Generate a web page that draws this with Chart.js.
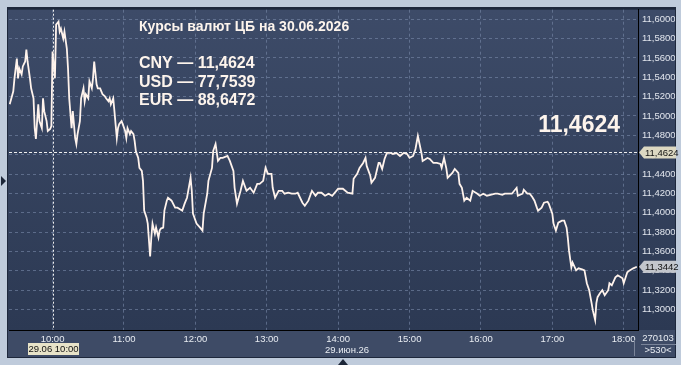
<!DOCTYPE html>
<html>
<head>
<meta charset="utf-8">
<script src="https://cdn.jsdelivr.net/npm/chart.js@4.4.1/dist/chart.umd.min.js"></script>
<style>
  html, body { margin: 0; padding: 0; background: #bfcbdb; }
  canvas { display: block; }
</style>
</head>
<body>
<canvas id="rateChart" width="681" height="365"></canvas>
<script>
// CNY/RUB intraday, 29.06
const times = [
  "09:24","09:27","09:28","09:30","09:31","09:32","09:34","09:35","09:37","09:38","09:39","09:41","09:42","09:44","09:45","09:46","09:48","09:49","09:51","09:52","09:53","09:55","09:56","09:58","09:59",
  "10:00","10:02","10:03","10:05","10:06","10:07","10:09","10:10","10:12","10:13","10:14","10:16","10:17","10:19","10:20","10:21","10:23","10:24","10:26","10:27","10:28","10:30","10:31","10:33","10:34","10:35","10:37","10:38","10:40","10:41","10:42","10:44","10:45","10:47","10:48","10:49","10:51","10:52","10:54","10:55","10:56","10:58","10:59",
  "11:01","11:02","11:03","11:05","11:06","11:08","11:09","11:10","11:12","11:13","11:15","11:16","11:17","11:19","11:20","11:22","11:23","11:24","11:26","11:27","11:29","11:30","11:31","11:33","11:34","11:36","11:37","11:40","11:43","11:45","11:49","11:51","11:53","11:56","11:57","11:58",
  "12:01","12:04","12:06","12:07","12:10","12:11","12:14","12:15","12:17","12:19","12:21","12:23","12:27","12:29","12:32","12:33","12:35","12:38","12:40","12:43","12:46","12:49","12:52","12:54","12:57","12:59",
  "13:01","13:04","13:05","13:07","13:10","13:13","13:15","13:18","13:21","13:24","13:26","13:30","13:32","13:35","13:38","13:41","13:43","13:46","13:49","13:52","13:55",
  "14:00","14:04","14:08","14:12","14:13","14:16","14:18","14:21","14:23","14:24","14:27","14:28","14:31","14:34","14:35","14:37","14:39","14:41","14:44","14:46","14:49","14:52","14:55","14:58",
  "15:00","15:03","15:05","15:07","15:10","15:11","15:15","15:17","15:20","15:23","15:26","15:27","15:29","15:31","15:32","15:36","15:38","15:41","15:42","15:44","15:46","15:48","15:51","15:53","15:57","15:59",
  "16:02","16:05","16:08","16:12","16:14","16:18","16:20","16:23","16:26","16:30","16:31","16:35","16:36","16:39","16:41","16:43","16:45","16:47","16:48","16:51","16:53","16:56","16:57",
  "17:00","17:01","17:03","17:05","17:08","17:10","17:12","17:13","17:14","17:16","17:17","17:20","17:22","17:25","17:27","17:29","17:31","17:33","17:34","17:36","17:37","17:38","17:40","17:42","17:44","17:47","17:48","17:50","17:53","17:55","17:59",
  "18:00","18:03","18:05","18:08","18:11"
];
const cnyValues = [
  11.5121,11.5255,11.5389,11.5594,11.5389,11.5491,11.5430,11.5512,11.5563,11.5687,11.5563,11.5389,11.5286,11.5183,11.4875,11.4762,11.5121,11.4947,11.4875,11.5183,11.5050,11.4947,11.4844,11.4865,11.4895,
  11.5666,11.5389,11.5944,11.5974,11.5872,11.5903,11.5800,11.5872,11.5697,11.5491,11.5183,11.4875,11.5050,11.4772,11.4710,11.4813,11.4947,11.5183,11.5286,11.5152,11.5224,11.5183,11.5358,11.5286,11.5389,11.5563,11.5327,11.5286,11.5286,11.5255,11.5224,11.5204,11.5183,11.5152,11.5183,11.5121,11.5183,11.5050,11.4772,11.4875,11.4916,11.4947,11.4916,
  11.4844,11.4772,11.4875,11.4813,11.4844,11.4813,11.4741,11.4638,11.4567,11.4464,11.4433,11.4330,11.4022,11.3950,11.3888,11.3549,11.3744,11.3888,11.3785,11.3847,11.3744,11.3816,11.3837,11.3847,11.4022,11.4125,11.4155,11.4125,11.4053,11.4053,11.4022,11.4094,11.4155,11.4361,11.4227,11.3991,
  11.3888,11.3847,11.3816,11.3991,11.4197,11.4330,11.4464,11.4638,11.4710,11.4536,11.4567,11.4567,11.4587,11.4536,11.4433,11.4258,11.4094,11.4227,11.4330,11.4227,11.4258,11.4207,11.4299,11.4299,11.4330,11.4464,
  11.4402,11.4402,11.4258,11.4155,11.4227,11.4227,11.4197,11.4207,11.4197,11.4197,11.4207,11.4104,11.4073,11.4125,11.4227,11.4176,11.4207,11.4207,11.4176,11.4197,11.4176,
  11.4248,11.4248,11.4207,11.4197,11.4351,11.4402,11.4464,11.4515,11.4567,11.4484,11.4382,11.4310,11.4361,11.4515,11.4515,11.4453,11.4556,11.4618,11.4618,11.4608,11.4618,11.4587,11.4618,11.4608,
  11.4567,11.4587,11.4659,11.4793,11.4618,11.4536,11.4567,11.4556,11.4515,11.4515,11.4505,11.4464,11.4567,11.4453,11.4361,11.4412,11.4453,11.4412,11.4299,11.4258,11.4125,11.4155,11.4125,11.4227,11.4197,11.4176,
  11.4197,11.4176,11.4186,11.4197,11.4197,11.4186,11.4197,11.4197,11.4197,11.4258,11.4176,11.4197,11.4238,11.4197,11.4197,11.4166,11.4125,11.4053,11.4022,11.4053,11.4104,11.4114,11.4094,
  11.3991,11.3888,11.3816,11.3898,11.3919,11.3919,11.3847,11.3744,11.3611,11.3436,11.3487,11.3405,11.3426,11.3415,11.3405,11.3272,11.3200,11.3066,11.2994,11.2891,11.3066,11.3128,11.3169,11.3200,11.3148,11.3200,11.3272,11.3251,11.3333,11.3354,11.3323,
  11.3272,11.3385,11.3405,11.3426,11.3442
];

const titleText = "Курсы валют ЦБ на 30.06.2026";
const rateNames = ["CNY", "USD", "EUR"];
const rateValues = ["11,4624", "77,7539", "88,6472"];
const cbRate = 11.4624;
const lastPrice = 11.3442;
const cursorTime = "10:00";
const cursorLabel = "29.06 10:00";
const dateLabel = "29.июн.26";
const volumeLabel = "270103";
const barsLabel = ">530<";

const FONT = '"Liberation Sans", Arial, sans-serif';

function toMinutes(t) {
  const [h, m] = t.split(":").map(Number);
  return h * 60 + m;
}
function fmtRate(v) {
  return v.toFixed(4).replace(".", ",");
}

function drawTag(ctx, x, y, text, bg) {
  ctx.beginPath();
  ctx.moveTo(x, y);
  ctx.lineTo(x + 5, y - 6);
  ctx.lineTo(x + 37, y - 6);
  ctx.lineTo(x + 37, y + 6);
  ctx.lineTo(x + 5, y + 6);
  ctx.closePath();
  ctx.fillStyle = bg;
  ctx.fill();
  ctx.fillStyle = "#111";
  ctx.textAlign = "left";
  ctx.textBaseline = "middle";
  ctx.fillText(text, x + 6, y + 0.5);
}

const panel = {
  id: "panel",
  beforeDraw(chart) {
    const { ctx, chartArea: a, width, height } = chart;
    ctx.save();
    ctx.fillStyle = "#bfcbdb";
    ctx.fillRect(0, 0, width, height);
    ctx.fillStyle = "#1e283c";
    ctx.fillRect(7, 7, 669, 351);
    const g = ctx.createLinearGradient(0, a.top, 0, a.bottom);
    g.addColorStop(0, "#3d4b68");
    g.addColorStop(1, "#2c3953");
    ctx.fillStyle = g;
    ctx.fillRect(8, a.top, 667, a.bottom - a.top);
    ctx.fillStyle = "#3e4b66";
    ctx.fillRect(8, a.bottom, 667, 357 - a.bottom);
    ctx.restore();
  },
  afterDraw(chart) {
    const { ctx, chartArea: a, scales: { x, y } } = chart;
    ctx.save();

    // cursor lines
    ctx.strokeStyle = "#eeeeee";
    ctx.lineWidth = 1;
    ctx.setLineDash([3, 2]);
    const yCb = Math.round(y.getPixelForValue(cbRate)) + 0.5;
    ctx.beginPath();
    ctx.moveTo(a.left, yCb);
    ctx.lineTo(a.right, yCb);
    ctx.stroke();
    ctx.setLineDash([2, 2]);
    const xCur = Math.round(x.getPixelForValue(toMinutes(cursorTime))) + 0.5;
    ctx.beginPath();
    ctx.moveTo(xCur, a.top);
    ctx.lineTo(xCur, a.bottom);
    ctx.stroke();
    ctx.setLineDash([]);

    // header texts
    ctx.fillStyle = "#fdf4ec";
    ctx.textAlign = "left";
    ctx.textBaseline = "alphabetic";
    ctx.font = "bold 14px " + FONT;
    ctx.fillText(titleText, 139, 31);
    ctx.font = "bold 16px " + FONT;
    rateNames.forEach((n, i) => {
      ctx.fillText(n + " — " + rateValues[i], 139, 68.3 + i * 18.35);
    });
    ctx.font = "bold 23px " + FONT;
    ctx.textAlign = "right";
    ctx.fillText(fmtRate(cbRate), 620, 132);

    // price tags on the right axis
    ctx.font = "9.5px " + FONT;
    drawTag(ctx, a.right + 1, y.getPixelForValue(cbRate), fmtRate(cbRate), "#dcd8c2");
    drawTag(ctx, a.right + 1, y.getPixelForValue(lastPrice), fmtRate(lastPrice), "#c3c6cc");

    // bottom band
    ctx.fillStyle = "#e8e3c8";
    ctx.fillRect(xCur - 25.5, 343, 51, 12);
    ctx.fillStyle = "#111";
    ctx.textAlign = "center";
    ctx.textBaseline = "middle";
    ctx.fillText(cursorLabel, xCur, 349.5);
    ctx.fillStyle = "#e8ecf2";
    ctx.textAlign = "left";
    ctx.fillText(dateLabel, 325, 350);

    ctx.strokeStyle = "#7a8499";
    ctx.beginPath();
    ctx.moveTo(634.5, 340);
    ctx.lineTo(634.5, 356);
    ctx.moveTo(641, 344.5);
    ctx.lineTo(676, 344.5);
    ctx.stroke();
    ctx.fillStyle = "#e8ecf2";
    ctx.textAlign = "center";
    ctx.fillText(volumeLabel, 658, 338);
    ctx.fillText(barsLabel, 658, 350.5);

    // scroll markers
    ctx.fillStyle = "#1c2638";
    ctx.beginPath();
    ctx.moveTo(1, 176);
    ctx.lineTo(6, 181);
    ctx.lineTo(1, 186);
    ctx.closePath();
    ctx.fill();
    ctx.beginPath();
    ctx.moveTo(338, 365);
    ctx.lineTo(343, 359);
    ctx.lineTo(348, 365);
    ctx.closePath();
    ctx.fill();
    ctx.restore();
  }
};

new Chart(document.getElementById("rateChart"), {
  type: "line",
  data: {
    datasets: [{
      data: times.map((t, i) => ({ x: toMinutes(t), y: cnyValues[i] })),
      borderColor: "#fff3ec",
      borderWidth: 1.8,
      pointRadius: 0,
      tension: 0,
      fill: false
    }]
  },
  options: {
    responsive: false,
    animation: false,
    devicePixelRatio: 1,
    layout: { padding: { left: 9, top: 8, right: 6, bottom: 8 } },
    plugins: { legend: { display: false }, tooltip: { enabled: false } },
    scales: {
      x: {
        type: "linear",
        min: 563.4,
        max: 1092,
        afterFit: s => { s.height = 27; },
        grid: { color: "rgba(122,138,170,0.6)", drawTicks: false },
        border: { color: "#000", width: 1, dash: [3, 3] },
        ticks: {
          stepSize: 60,
          includeBounds: false,
          autoSkip: false,
          maxRotation: 0,
          padding: 4,
          color: "#e8ecf2",
          font: { family: FONT, size: 9.5 },
          callback: v => String(Math.floor(v / 60)).padStart(2, "0") + ":00"
        }
      },
      y: {
        position: "right",
        min: 11.2789,
        max: 11.6098,
        afterFit: s => { s.width = 37; },
        grid: { color: "rgba(122,138,170,0.6)", drawTicks: false },
        border: { color: "#000", width: 1, dash: [3, 3] },
        ticks: {
          stepSize: 0.02,
          includeBounds: false,
          padding: 4,
          color: "#e2e6ee",
          font: { family: FONT, size: 9.5 },
          callback: v => (v < 11.29 ? null : fmtRate(v))
        }
      }
    }
  },
  plugins: [panel]
});
</script>
</body>
</html>
